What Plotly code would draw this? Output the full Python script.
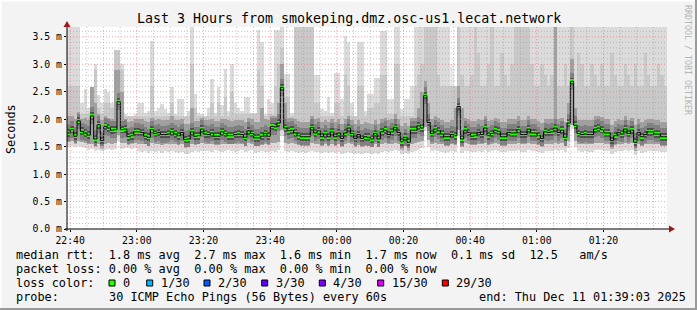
import plotly.graph_objects as go
import pandas as pd

# ---------------- data ----------------
start_time = "2025-12-10 22:39:03"
end_time = "2025-12-11 01:39:03"
step_seconds = 60

# median rtt (ms) per 60 s step
median = [
    1.75, 1.81, 1.69, 1.97, 1.78, 1.75, 1.71, 2.06, 1.64, 1.90, 1.61, 1.87, 1.84, 1.80, 1.81, 2.32,
    1.81, 1.82, 1.68, 1.70, 1.77, 1.77, 1.76, 1.69, 1.67, 1.81, 1.74, 1.76, 1.72, 1.72, 1.73, 1.77,
    1.73, 1.70, 1.76, 1.63, 1.64, 1.77, 1.69, 1.70, 1.82, 1.73, 1.72, 1.75, 1.69, 1.69, 1.77, 1.74,
    1.70, 1.70, 1.72, 1.73, 1.72, 1.67, 1.79, 1.74, 1.66, 1.66, 1.69, 1.74,
    1.69, 1.87, 1.86, 1.93, 2.58, 1.84, 1.79, 1.80, 1.75, 1.70, 1.68, 1.68, 1.68, 1.85, 1.75, 1.79,
    1.68, 1.73, 1.68, 1.77, 1.68, 1.75, 1.65, 1.75, 1.84, 1.74, 1.65, 1.72, 1.65, 1.68, 1.67, 1.64,
    1.74, 1.64, 1.77, 1.80, 1.72, 1.77, 1.85, 1.76, 1.59, 1.67, 1.58, 1.80, 1.80, 1.88, 1.84, 2.43,
    1.94, 1.74, 1.82, 1.79, 1.73, 1.68, 1.68, 1.72, 1.70, 2.23, 1.64, 1.80,
    1.76, 1.69, 1.70, 1.76, 1.72, 1.84, 1.70, 1.74, 1.80, 1.78, 1.68, 1.68, 1.76, 1.75, 1.75, 1.81,
    1.72, 1.72, 1.82, 1.75, 1.75, 1.70, 1.65, 1.77, 1.76, 1.77, 1.84, 1.76, 1.80, 1.67, 1.93, 2.69,
    1.89, 1.74, 1.72, 1.73, 1.72, 1.72, 1.82, 1.84, 1.81, 1.75, 1.75, 1.61, 1.70, 1.76, 1.73, 1.82,
    1.74, 1.80, 1.58, 1.76, 1.68, 1.72, 1.77, 1.77, 1.73, 1.73, 1.68, 1.68,
]

# slowest ping per step (top of the lightest smoke)
smoke_max = [
    3.68, 3.68, 3.68, 3.68, 2.30, 2.55, 2.20, 2.58, 3.00, 2.45, 2.30, 2.55, 2.50, 2.30, 3.27, 3.27,
    3.00, 2.10, 2.05, 2.05, 2.10, 2.30, 2.30, 2.12, 2.15, 3.42, 2.15, 2.20, 2.27, 2.18, 2.12, 2.58,
    2.10, 2.36, 2.36, 2.06, 2.15, 3.68, 2.46, 2.12, 2.10, 2.06, 2.20, 2.73, 2.12, 2.58, 2.25, 2.91,
    2.15, 3.00, 2.30, 2.20, 2.15, 2.40, 2.40, 2.12, 2.12, 3.63, 3.40, 2.10,
    2.36, 2.30, 3.62, 3.62, 3.68, 2.82, 2.82, 2.12, 3.68, 3.68, 3.68, 3.68, 3.68, 3.68, 2.80, 2.80,
    2.18, 2.15, 2.40, 2.12, 2.85, 2.85, 2.36, 3.52, 3.40, 2.30, 2.06, 3.40, 3.40, 2.15, 2.46, 2.46,
    2.76, 2.76, 3.60, 3.60, 2.36, 2.36, 3.68, 3.68, 2.18, 2.36, 2.36, 2.60, 3.68, 3.68, 3.68, 3.68,
    3.68, 3.68, 3.68, 3.68, 3.68, 3.68, 3.68, 2.60, 2.60, 3.68, 3.68, 3.68,
    3.68, 3.68, 3.68, 3.68, 3.68, 3.68, 3.68, 3.68, 3.68, 3.68, 3.68, 3.68, 3.68, 3.68, 3.68, 3.68,
    3.68, 3.68, 3.68, 3.68, 3.68, 3.68, 3.68, 3.68, 3.68, 3.68, 3.68, 3.68, 3.68, 3.68, 3.68, 3.68,
    3.68, 3.68, 3.68, 3.68, 3.68, 3.68, 3.68, 3.68, 3.68, 3.68, 3.68, 3.68, 3.68, 3.68, 3.68, 3.68,
    3.68, 3.68, 3.68, 3.68, 3.68, 3.68, 3.68, 3.68, 3.68, 3.68, 3.68, 3.68,
]

# second-slowest pings (top of the medium-light smoke)
smoke_hi2 = [
    2.60, 2.60, 2.60, 2.60, 2.10, 2.10, 2.10, 2.58, 2.90, 2.20, 2.10, 2.30, 2.30, 2.20, 3.27, 3.27,
    2.90, 2.05, 2.05, 2.05, 2.05, 2.05, 2.05, 2.05, 2.05, 2.60, 2.05, 2.05, 2.05, 2.05, 2.05, 2.30,
    2.05, 2.05, 2.05, 2.05, 2.05, 3.00, 2.20, 2.05, 2.05, 2.05, 2.05, 2.30, 2.05, 2.30, 2.05, 2.40,
    2.05, 2.50, 2.10, 2.10, 2.10, 2.10, 2.10, 2.10, 2.10, 2.90, 2.60, 2.05,
    2.10, 2.10, 2.60, 3.00, 3.30, 2.40, 2.40, 2.05, 3.68, 3.68, 3.68, 3.68, 3.68, 3.68, 2.30, 2.30,
    2.05, 2.05, 2.05, 2.05, 2.30, 2.30, 2.05, 2.80, 2.60, 2.05, 2.05, 2.60, 2.60, 2.05, 2.20, 2.20,
    2.30, 2.30, 2.80, 2.80, 2.10, 2.10, 3.00, 3.00, 2.05, 2.05, 2.05, 2.05, 2.60, 2.80, 3.00, 3.68,
    3.68, 3.68, 3.68, 2.80, 2.60, 2.60, 2.60, 3.00, 2.60, 3.68, 2.80, 2.60,
    2.60, 2.80, 3.68, 3.20, 2.60, 2.60, 3.00, 3.68, 2.60, 2.60, 3.20, 2.80, 2.60, 3.00, 3.68, 3.68,
    3.68, 3.68, 3.68, 3.00, 2.60, 2.60, 3.00, 2.80, 2.60, 2.80, 3.68, 2.60, 2.60, 3.00, 2.60, 3.68,
    2.60, 3.20, 3.00, 2.60, 2.60, 3.00, 2.80, 2.60, 3.00, 2.60, 2.60, 3.20, 2.80, 2.60, 2.60, 3.00,
    2.80, 2.60, 3.00, 2.60, 2.60, 3.20, 2.80, 2.60, 2.60, 3.00, 2.80, 2.60,
]

# upper edge of the dense (darker) smoke
smoke_mid_hi = [
    2.05, 2.05, 2.00, 2.10, 2.00, 2.02, 1.98, 2.58, 2.30, 2.10, 1.98, 2.05, 2.02, 2.00, 2.90, 2.90,
    2.50, 2.00, 1.95, 1.96, 2.00, 2.00, 2.00, 1.96, 1.95, 2.02, 1.98, 2.00, 1.98, 1.98, 1.98, 2.05,
    1.98, 1.98, 2.00, 1.92, 1.92, 2.20, 1.96, 1.96, 2.02, 1.98, 1.98, 2.00, 1.96, 1.96, 2.00, 2.00,
    1.98, 1.96, 1.98, 1.98, 1.98, 1.95, 2.02, 2.00, 1.95, 1.95, 2.20, 2.00,
    1.98, 2.05, 2.05, 2.30, 3.00, 2.30, 2.02, 2.02, 2.00, 1.96, 1.95, 1.95, 1.95, 2.05, 2.00, 2.02,
    1.95, 1.98, 1.95, 2.00, 1.95, 2.00, 1.92, 2.00, 2.05, 1.98, 1.92, 1.98, 1.92, 1.95, 1.94, 1.92,
    1.98, 1.92, 2.00, 2.02, 1.98, 2.00, 2.10, 2.00, 1.88, 1.94, 1.88, 2.02, 2.02, 2.20, 2.50, 2.70,
    2.30, 2.00, 2.05, 2.02, 1.98, 1.95, 1.95, 1.98, 2.20, 2.60, 2.20, 2.02,
    2.00, 1.96, 1.96, 2.00, 1.98, 2.05, 1.96, 1.98, 2.02, 2.00, 1.95, 1.95, 2.00, 2.00, 2.00, 2.05,
    1.98, 1.98, 2.05, 2.00, 2.00, 1.96, 1.94, 2.00, 2.00, 2.00, 3.68, 2.00, 2.02, 1.95, 2.30, 3.10,
    2.20, 1.98, 1.98, 1.98, 1.98, 1.98, 2.05, 2.05, 2.04, 2.00, 2.00, 1.90, 1.96, 2.00, 1.98, 2.05,
    1.98, 2.02, 1.90, 2.00, 1.95, 1.98, 2.00, 2.00, 1.98, 1.98, 1.95, 1.95,
]

# lower edge of the dense smoke
smoke_mid_lo = [
    1.58, 1.60, 1.56, 1.60, 1.58, 1.56, 1.54, 1.55, 1.52, 1.55, 1.52, 1.55, 1.56, 1.55, 1.56, 1.72,
    1.56, 1.57, 1.54, 1.56, 1.56, 1.55, 1.54, 1.54, 1.52, 1.56, 1.55, 1.55, 1.53, 1.54, 1.54, 1.55,
    1.54, 1.53, 1.55, 1.50, 1.50, 1.55, 1.53, 1.54, 1.56, 1.54, 1.54, 1.55, 1.53, 1.53, 1.55, 1.55,
    1.54, 1.54, 1.54, 1.55, 1.54, 1.52, 1.56, 1.55, 1.51, 1.51, 1.53, 1.55,
    1.53, 1.57, 1.57, 1.58, 1.80, 1.56, 1.55, 1.56, 1.54, 1.53, 1.52, 1.52, 1.52, 1.56, 1.54, 1.55,
    1.52, 1.54, 1.52, 1.55, 1.52, 1.54, 1.51, 1.54, 1.56, 1.54, 1.51, 1.53, 1.51, 1.52, 1.52, 1.50,
    1.54, 1.50, 1.55, 1.56, 1.54, 1.55, 1.57, 1.55, 1.48, 1.51, 1.48, 1.55, 1.56, 1.58, 1.60, 1.86,
    1.62, 1.54, 1.56, 1.55, 1.54, 1.52, 1.52, 1.54, 1.53, 1.80, 1.51, 1.56,
    1.55, 1.53, 1.53, 1.55, 1.54, 1.57, 1.53, 1.54, 1.56, 1.55, 1.52, 1.52, 1.55, 1.55, 1.55, 1.56,
    1.54, 1.54, 1.56, 1.55, 1.55, 1.53, 1.51, 1.55, 1.55, 1.55, 1.57, 1.55, 1.56, 1.52, 1.60, 1.90,
    1.60, 1.54, 1.54, 1.54, 1.54, 1.54, 1.56, 1.57, 1.56, 1.55, 1.55, 1.50, 1.53, 1.55, 1.54, 1.56,
    1.54, 1.56, 1.48, 1.55, 1.52, 1.54, 1.55, 1.55, 1.54, 1.54, 1.52, 1.52,
]

# fastest ping per step (bottom of the smoke)
smoke_min = [
    1.50, 1.52, 1.50, 1.52, 1.50, 1.48, 1.44, 1.45, 1.42, 1.44, 1.42, 1.44, 1.45, 1.44, 1.46, 1.60,
    1.46, 1.47, 1.47, 1.46, 1.48, 1.42, 1.40, 1.42, 1.38, 1.42, 1.40, 1.42, 1.38, 1.42, 1.40, 1.42,
    1.40, 1.38, 1.40, 1.36, 1.36, 1.40, 1.42, 1.40, 1.42, 1.43, 1.42, 1.40, 1.44, 1.42, 1.40, 1.42,
    1.44, 1.42, 1.40, 1.42, 1.44, 1.40, 1.42, 1.44, 1.38, 1.40, 1.42, 1.40,
    1.40, 1.42, 1.40, 1.44, 1.70, 1.42, 1.40, 1.42, 1.40, 1.38, 1.40, 1.38, 1.40, 1.42, 1.40, 1.40,
    1.38, 1.40, 1.38, 1.40, 1.38, 1.40, 1.36, 1.38, 1.40, 1.38, 1.36, 1.38, 1.36, 1.38, 1.38, 1.36,
    1.38, 1.36, 1.40, 1.42, 1.40, 1.42, 1.44, 1.42, 1.36, 1.38, 1.36, 1.40, 1.42, 1.44, 1.48, 1.78,
    1.50, 1.42, 1.44, 1.42, 1.40, 1.38, 1.40, 1.42, 1.40, 1.70, 1.38, 1.42,
    1.42, 1.40, 1.40, 1.42, 1.40, 1.44, 1.40, 1.42, 1.44, 1.42, 1.40, 1.40, 1.42, 1.42, 1.42, 1.44,
    1.40, 1.40, 1.44, 1.42, 1.42, 1.40, 1.38, 1.42, 1.42, 1.42, 1.44, 1.42, 1.44, 1.40, 1.48, 1.82,
    1.50, 1.42, 1.40, 1.42, 1.40, 1.40, 1.44, 1.44, 1.44, 1.42, 1.42, 1.36, 1.40, 1.42, 1.42, 1.44,
    1.42, 1.44, 1.34, 1.42, 1.38, 1.40, 1.42, 1.42, 1.42, 1.42, 1.40, 1.40,
]

y_tick_values = [0.0, 0.5, 1.0, 1.5, 2.0, 2.5, 3.0, 3.5]
y_tick_labels = ["0.0 m", "0.5 m", "1.0 m", "1.5 m", "2.0 m", "2.5 m", "3.0 m", "3.5 m"]

title_text = "Last 3 Hours from smokeping.dmz.osc-us1.lecat.network"
legend_line1 = "median rtt:  1.8 ms avg  2.7 ms max  1.6 ms min  1.7 ms now  0.1 ms sd  12.5   am/s"
legend_line2 = "packet loss: 0.00 % avg  0.00 % max  0.00 % min  0.00 % now"
loss_labels = ["0", "1/30", "2/30", "3/30", "4/30", "15/30", "29/30"]
loss_colors = ["#26ff00", "#00b8ff", "#0059ff", "#5e00ff", "#7e00ff", "#dd00ff", "#ff0000"]
probe_text = "30 ICMP Echo Pings (56 Bytes) every 60s"
end_text = "end: Thu Dec 11 01:39:03 2025"

# ---------------- build ----------------
FONT = "DejaVu Sans Mono"
W, H = 697, 310
ML, MR, MT, MB = 67, 30, 27, 81
PW, PH = W - ML - MR, H - MT - MB
YMAX = 3.68

t0 = pd.Timestamp(start_time)
t1 = pd.Timestamp(end_time)
n = len(median)
step = pd.Timedelta(seconds=step_seconds)
centers = [t0 + step * i + step / 2 for i in range(n)]
edges = [t0 + step * i for i in range(n + 1)]
bar_w = step_seconds * 1000


def px(x, y):
    return (x - ML) / PW, (MT + PH - y) / PH


def band(lo, hi, color):
    return go.Bar(
        x=centers, base=lo, y=[h - l for l, h in zip(lo, hi)], width=bar_w,
        marker=dict(color=color, line=dict(width=0)), hoverinfo="skip",
    )


fig = go.Figure()
fig.add_trace(band(smoke_min, smoke_max, "rgba(0,0,0,0.14)"))
fig.add_trace(band(smoke_mid_lo, smoke_hi2, "rgba(0,0,0,0.08)"))
fig.add_trace(band(smoke_mid_lo, smoke_mid_hi, "rgba(0,0,0,0.20)"))
fig.add_trace(band([m - 0.15 for m in median], [m + 0.16 for m in median], "rgba(0,0,0,0.20)"))
fig.add_trace(band([m - 0.07 for m in median], [m + 0.07 for m in median], "rgba(0,0,0,0.38)"))
fig.add_trace(go.Scatter(
    x=edges, y=median + [median[-1]], mode="lines",
    line=dict(shape="hv", color="#000000", width=1), hoverinfo="skip",
))
gh = 0.034
fig.add_trace(band([m - gh for m in median], [m + gh for m in median], loss_colors[0]))

shapes = []
# grid on top of the smoke (as rrdtool draws it)
minor_c = "rgba(150,150,150,0.55)"
major_c = "rgba(255,95,95,0.6)"
k = 1
while k * 0.1 < YMAX - 1e-9:
    v = round(k * 0.1, 2)
    major = abs(v * 2 - round(v * 2)) < 1e-6
    shapes.append(dict(type="line", xref="paper", yref="y", x0=0, x1=1, y0=v, y1=v, layer="above",
                       line=dict(color=major_c if major else minor_c, width=1, dash="1px,2px")))
    k += 1
g = pd.Timestamp("2025-12-10 22:40:00")
while g < t1:
    major = g.minute % 20 == 0
    shapes.append(dict(type="line", xref="x", yref="paper", x0=g, x1=g, y0=0, y1=1, layer="above",
                       line=dict(color=major_c if major else minor_c, width=1, dash="1px,2px")))
    g += pd.Timedelta(minutes=5)

# axes with arrows
ax0 = px(65, 229); ax1 = px(670, 229)
shapes.append(dict(type="line", xref="paper", yref="paper", x0=ax0[0], y0=ax0[1], x1=ax1[0], y1=ax1[1],
                   line=dict(color="black", width=1), layer="above"))
ay0 = px(67, 231); ay1 = px(67, 25)
shapes.append(dict(type="line", xref="paper", yref="paper", x0=ay0[0], y0=ay0[1], x1=ay1[0], y1=ay1[1],
                   line=dict(color="black", width=1), layer="above"))
arrow_c = "#a01818"
def tri(pts):
    p = [px(*q) for q in pts]
    return "M {} {} L {} {} L {} {} Z".format(p[0][0], p[0][1], p[1][0], p[1][1], p[2][0], p[2][1])
shapes.append(dict(type="path", xref="paper", yref="paper", path=tri([(669, 225.5), (675, 229), (669, 232.5)]),
                   fillcolor=arrow_c, line=dict(width=0), layer="above"))
shapes.append(dict(type="path", xref="paper", yref="paper", path=tri([(63.5, 27), (67, 21), (70.5, 27)]),
                   fillcolor=arrow_c, line=dict(width=0), layer="above"))

# frame of the image
for (xa, ya, xb, yb, c) in [(0, 0.5, W, 0.5, "#ffffff"), (0.5, 0, 0.5, H, "#ffffff"),
                            (W - 1, 0, W - 1, H, "#9a9a9a"), (0, H - 1, W, H - 1, "#9a9a9a")]:
    p0 = px(xa, ya); p1 = px(xb, yb)
    shapes.append(dict(type="line", xref="paper", yref="paper", x0=p0[0], y0=p0[1], x1=p1[0], y1=p1[1],
                       line=dict(color=c, width=2), layer="above"))

annotations = []
def text(x, y, s, size, anchor="left", color="black", angle=0):
    p = px(x, y)
    annotations.append(dict(xref="paper", yref="paper", x=p[0], y=p[1], text=s.replace(" ", "\u00a0"),
                            showarrow=False, xanchor=anchor, yanchor="middle", textangle=angle,
                            font=dict(family=FONT, size=size, color=color), borderpad=0))

LF = 11.85
CW = 7.12
text(W / 2, 19, title_text, 13.3, anchor="center")
text(11, 129, "Seconds", 11.8, anchor="center", angle=-90)
text(688, 60, "RRDTOOL / TOBI OETIKER", 8.3, anchor="center", color="#b4b4b4", angle=90)
text(15, 255, legend_line1, LF)
text(15, 269, legend_line2, LF)
text(15, 283, "loss color:", LF)
box_x = [109, 146.7, 204, 261.7, 319.3, 377.7, 442.3]
for bx, lab, col in zip(box_x, loss_labels, loss_colors):
    b0 = px(bx, 286); b1 = px(bx + 6, 280)
    shapes.append(dict(type="rect", xref="paper", yref="paper", x0=b0[0], y0=b0[1], x1=b1[0], y1=b1[1],
                       fillcolor=col, line=dict(color="black", width=1), layer="above"))
    text(bx + 13, 283, lab, LF)
text(15, 297, "probe:", LF)
text(15 + 13 * CW, 297, probe_text, LF)
text(15 + 65 * CW, 297, end_text, LF)

fig.update_layout(
    width=W, height=H, margin=dict(l=ML, r=MR, t=MT, b=MB),
    paper_bgcolor="#f3f3f3", plot_bgcolor="#ffffff",
    barmode="overlay", showlegend=False, bargap=0,
    font=dict(family=FONT, size=10, color="black"),
    shapes=shapes, annotations=annotations,
    xaxis=dict(type="date", range=[t0, t1], tickformat="%H:%M", tick0="2025-12-10 22:40:00",
               dtick=20 * 60 * 1000, showgrid=False, zeroline=False, showline=False,
               ticks="outside", ticklen=2, tickcolor="black", tickfont=dict(family=FONT, size=9.8)),
    yaxis=dict(range=[0, YMAX], tickvals=y_tick_values, ticktext=y_tick_labels,
               showgrid=False, zeroline=False, showline=False,
               ticks="outside", ticklen=2, tickcolor="black", tickfont=dict(family=FONT, size=9.8)),
)

fig.write_html("out.html")
